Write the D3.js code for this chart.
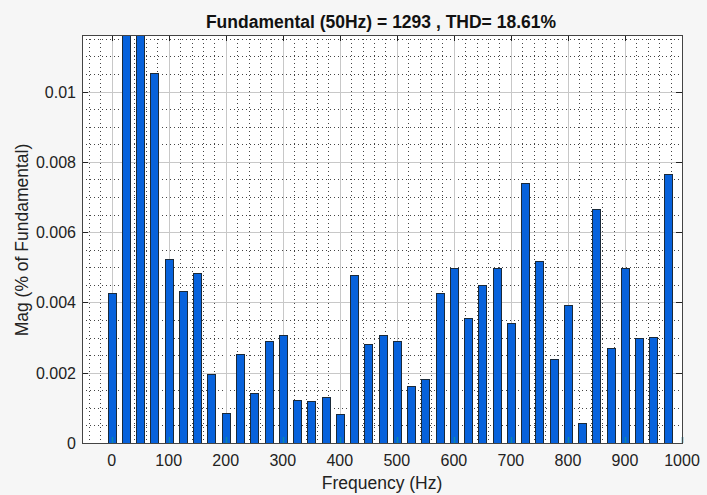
<!DOCTYPE html>
<html>
<head>
<meta charset="utf-8">
<script src="https://cdn.jsdelivr.net/npm/d3@7"></script>
<style>
body { margin:0; background:#f6f6f6; }
text { font-family: "Liberation Sans", Arial, sans-serif; }
</style>
</head>
<body>
<div id="chart"></div>
<script>
// harmonic frequencies (Hz) and magnitudes
var freqs = d3.range(0, 1000, 25);
var mags = [0.00426, 0.0135, 0.0135, 0.01053, 0.00523, 0.00433, 0.00485, 0.00195,
            0.00086, 0.00252, 0.00141, 0.00289, 0.00307, 0.00123, 0.00120, 0.00132,
            0.00082, 0.00479, 0.00281, 0.00307, 0.00289, 0.00163, 0.00182, 0.00426,
            0.00497, 0.00356, 0.00450, 0.00497, 0.00342, 0.00740, 0.00519, 0.00238,
            0.00393, 0.00056, 0.00665, 0.00271, 0.00497, 0.00300, 0.00302, 0.00765];
var xTicks = [0, 100, 200, 300, 400, 500, 600, 700, 800, 900, 1000];
var yTicks = [0, 0.002, 0.004, 0.006, 0.008, 0.01];
var titleText = "Fundamental (50Hz) = 1293 , THD= 18.61%";

var W = 707, H = 495;
var pL = 82, pT = 35, pR = 682, pB = 443;

var svg = d3.select("#chart").append("svg").attr("width", W).attr("height", H);

var x = d3.scaleLinear().domain([-52, 1000]).range([pL, pR]);
var y = d3.scaleLinear().domain([0, 0.01161]).range([pB, pT]);
// snap grid lines onto pixel centres
function px(v){ return Math.round(x(v)) + 0.5; }
function py(v){ return Math.round(y(v)) + 0.5; }

svg.append("rect").attr("x", pL).attr("y", pT).attr("width", pR-pL).attr("height", pB-pT)
    .style("fill", "#ffffff");

svg.append("clipPath").attr("id", "clip").append("rect")
    .attr("x", pL).attr("y", pT).attr("width", pR-pL).attr("height", pB-pT);

var grid = svg.append("g").attr("clip-path", "url(#clip)");

// minor grid
var xMinor = d3.range(-40, 1000, 20).filter(function(d){ return d % 100 != 0; });
var yMinor = d3.range(0.0005, 0.0116, 0.0005).filter(function(d){ return Math.abs(d/0.002 - Math.round(d/0.002)) > 0.01; });
grid.selectAll(".vminor").data(xMinor).enter().append("line")
    .attr("x1", px).attr("x2", px)
    .attr("y1", pT).attr("y2", pB)
    .style("stroke", "#444").style("stroke-width", 1).style("stroke-dasharray", "1,3");
grid.selectAll(".hminor").data(yMinor).enter().append("line")
    .attr("y1", py).attr("y2", py)
    .attr("x1", pL).attr("x2", pR)
    .style("stroke", "#444").style("stroke-width", 1).style("stroke-dasharray", "1,3");

// major grid
grid.selectAll(".vmajor").data(xTicks.slice(0, -1)).enter().append("line")
    .attr("x1", px).attr("x2", px)
    .attr("y1", pT).attr("y2", pB)
    .style("stroke", "#c8c8c8").style("stroke-width", 1);
grid.selectAll(".hmajor").data(yTicks.slice(1)).enter().append("line")
    .attr("y1", py).attr("y2", py)
    .attr("x1", pL).attr("x2", pR)
    .style("stroke", "#c8c8c8").style("stroke-width", 1);

// bars
var bw = x(14) - x(0);
grid.selectAll(".bar").data(freqs).enter().append("rect")
    .attr("x", function(d){ return Math.round(x(d) - bw/2) + 0.5; })
    .attr("y", function(d, i){ return Math.round(y(mags[i])) + 0.5; })
    .attr("width", Math.round(bw))
    .attr("height", function(d, i){ return pB - Math.round(y(mags[i])); })
    .style("fill", "#0762dc").style("stroke", "#1a2a3a").style("stroke-width", 1);

// tick marks inside the box
svg.selectAll(".xtb").data(xTicks).enter().append("line")
    .attr("x1", px).attr("x2", px)
    .attr("y1", pB).attr("y2", pB - 6)
    .style("stroke", "#0a8aa8").style("stroke-width", 1.5);
svg.selectAll(".xtt").data(xTicks).enter().append("line")
    .attr("x1", px).attr("x2", px)
    .attr("y1", pT).attr("y2", pT + 6)
    .style("stroke", "#222").style("stroke-width", 1);
svg.selectAll(".ytr").data(yTicks).enter().append("line")
    .attr("y1", py).attr("y2", py)
    .attr("x1", pR).attr("x2", pR - 6)
    .style("stroke", "#222").style("stroke-width", 1);
svg.selectAll(".ytl").data(yTicks).enter().append("line")
    .attr("y1", py).attr("y2", py)
    .attr("x1", pL).attr("x2", pL + 6)
    .style("stroke", "#222").style("stroke-width", 1);

// box
svg.append("rect").attr("x", pL + 0.5).attr("y", pT + 0.5).attr("width", pR-pL).attr("height", pB-pT)
    .style("fill", "none").style("stroke", "#444").style("stroke-width", 1);

// tick labels
svg.selectAll(".xlab").data(xTicks).enter().append("text")
    .attr("x", function(d){ return x(d); }).attr("y", pB + 23)
    .attr("text-anchor", "middle").style("font-size", "16px").style("fill", "#222")
    .text(function(d){ return d; });
svg.selectAll(".ylab").data(yTicks).enter().append("text")
    .attr("x", pL - 6).attr("y", function(d){ return y(d) + 6; })
    .attr("text-anchor", "end").style("font-size", "16px").style("fill", "#222")
    .text(function(d){ return d3.format("~g")(d); });

// axis labels and title
svg.append("text").attr("x", 382).attr("y", 489).attr("text-anchor", "middle")
    .style("font-size", "17.5px").style("fill", "#222").text("Frequency (Hz)");
svg.append("text").attr("transform", "translate(28,240)rotate(-90)")
    .attr("text-anchor", "middle").style("font-size", "17.5px").style("fill", "#222")
    .text("Mag (% of Fundamental)");
svg.append("text").attr("x", 381).attr("y", 28).attr("text-anchor", "middle")
    .style("font-size", "17.5px").style("font-weight", "bold").style("fill", "#111").text(titleText);
</script>
</body>
</html>
